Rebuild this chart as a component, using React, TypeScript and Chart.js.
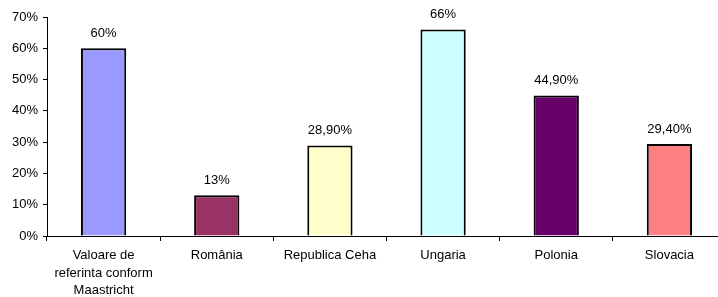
import React, { useEffect, useRef } from "react";
import { Chart, registerables } from "chart.js";

Chart.register(...registerables);

const categories: (string | string[])[] = [
  ["Valoare de", "referinta conform", "Maastricht"],
  "România",
  "Republica Ceha",
  "Ungaria",
  "Polonia",
  "Slovacia",
];
const values = [60, 13, 28.9, 66, 44.9, 29.4];
const valueLabels = ["60%", "13%", "28,90%", "66%", "44,90%", "29,40%"];
const barColors = ["#9999FF", "#993366", "#FFFFCC", "#CCFFFF", "#660066", "#FF8080"];
const yTicks = [0, 10, 20, 30, 40, 50, 60, 70];

const FONT = "'Liberation Sans', Arial, sans-serif";

const valueLabelPlugin = {
  id: "valueLabels",
  afterDatasetsDraw(chart: any) {
    const ctx = chart.ctx;
    const meta = chart.getDatasetMeta(0);
    ctx.save();
    ctx.font = `13px ${FONT}`;
    ctx.fillStyle = "#000";
    ctx.textAlign = "center";
    ctx.textBaseline = "middle";
    meta.data.forEach((bar: any, i: number) => {
      ctx.fillText(valueLabels[i], bar.x, bar.y - 15);
    });
    ctx.restore();
  },
};

export default function App() {
  const ref = useRef<HTMLCanvasElement>(null);
  useEffect(() => {
    document.body.style.margin = "0";
    document.body.style.overflow = "hidden";
    const chart = new Chart(ref.current!, {
      type: "bar",
      data: {
        labels: categories,
        datasets: [
          {
            data: values,
            backgroundColor: barColors,
            borderColor: "#000",
            borderWidth: 2,
            barPercentage: 0.4,
            categoryPercentage: 1,
          },
        ],
      },
      options: {
        animation: false,
        responsive: false,
        maintainAspectRatio: false,
        layout: { padding: { top: 17, right: 4, left: 0, bottom: 0 } },
        plugins: { legend: { display: false }, tooltip: { enabled: false } },
        scales: {
          x: {
            offset: true,
            grid: {
              offset: true,
              drawOnChartArea: false,
              drawTicks: true,
              tickLength: 5,
              color: "#000",
            },
            border: { color: "#000", width: 1 },
            ticks: {
              color: "#000",
              font: { family: FONT, size: 13, lineHeight: 1.34 },
              padding: 6,
              maxRotation: 0,
              autoSkip: false,
            },
            afterFit(scale: any) {
              scale.height = 61;
            },
          },
          y: {
            min: 0,
            max: 70,
            afterBuildTicks(scale: any) {
              scale.ticks = yTicks.map((v) => ({ value: v }));
            },
            grid: {
              drawOnChartArea: false,
              drawTicks: true,
              tickLength: 4,
              color: "#000",
            },
            border: { color: "#000", width: 1 },
            ticks: {
              color: "#000",
              font: { family: FONT, size: 13 },
              padding: 5,
              callback: (v: any) => `${v}%`,
            },
            afterFit(scale: any) {
              scale.width = 47;
            },
          },
        },
      },
      plugins: [valueLabelPlugin],
    });
    return () => chart.destroy();
  }, []);
  return (
    <div style={{ position: "absolute", left: 0, top: 0, width: 730, height: 297 }}>
      <canvas ref={ref} width={730} height={297} style={{ width: 730, height: 297 }} />
    </div>
  );
}
